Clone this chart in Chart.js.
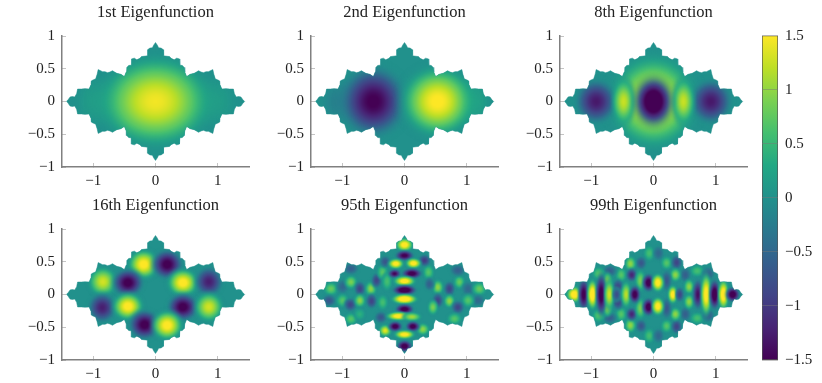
<!DOCTYPE html>
<html>
<head>
<meta charset="utf-8">
<title>Eigenfunctions</title>
<script src="https://cdn.jsdelivr.net/npm/chart.js@4"></script>
<style>
  html, body { margin: 0; background: #fff; }
  canvas { position: absolute; }
</style>
</head>
<body>
<script>
// tick labels and titles
const panelTitles = ['1st Eigenfunction', '2nd Eigenfunction', '8th Eigenfunction',
                     '16th Eigenfunction', '95th Eigenfunction', '99th Eigenfunction'];
const xTicks = [-1, 0, 1];
const yTicks = [-1, -0.5, 0, 0.5, 1];
const barTicks = [-1.5, -1, -0.5, 0, 0.5, 1, 1.5];

// domain boundary, clockwise from the left tip
const domainX = [-1.43,-1.40,-1.37,-1.335,-1.295,-1.265,-1.25,-1.19,-1.13,-1.065,-1.035,-1.03,-1.0,-0.96,-0.935,-0.92,-0.85,-0.81,-0.77,-0.73,-0.69,-0.65,-0.62,-0.555,-0.50,-0.47,-0.46,-0.43,-0.39,-0.385,-0.34,-0.30,-0.25,-0.225,-0.15,-0.13,-0.128,-0.09,-0.05,-0.03,
  0,0.03,0.05,0.09,0.128,0.13,0.15,0.225,0.25,0.30,0.34,0.385,0.39,0.43,0.46,0.47,0.50,0.555,0.62,0.65,0.69,0.73,0.77,0.81,0.85,0.92,0.935,0.96,1.0,1.03,1.035,1.065,1.13,1.19,1.25,1.265,1.295,1.335,1.37,1.40,1.43,
  1.40,1.37,1.335,1.295,1.265,1.25,1.19,1.13,1.065,1.035,1.03,1.0,0.96,0.935,0.92,0.85,0.81,0.77,0.73,0.69,0.65,0.62,0.555,0.50,0.47,0.46,0.43,0.39,0.385,0.34,0.30,0.25,0.225,0.15,0.13,0.128,0.09,0.05,0.03,
  0,-0.03,-0.05,-0.09,-0.128,-0.13,-0.15,-0.225,-0.25,-0.30,-0.34,-0.385,-0.39,-0.43,-0.46,-0.47,-0.50,-0.555,-0.62,-0.65,-0.69,-0.73,-0.77,-0.81,-0.85,-0.92,-0.935,-0.96,-1.0,-1.03,-1.035,-1.065,-1.13,-1.19,-1.25,-1.265,-1.295,-1.335,-1.37,-1.40];
const domainY = [0,0.03,0.07,0.075,0.07,0.12,0.19,0.19,0.195,0.19,0.255,0.313,0.33,0.345,0.42,0.487,0.456,0.455,0.44,0.45,0.47,0.445,0.43,0.415,0.38,0.45,0.52,0.55,0.555,0.65,0.662,0.636,0.66,0.686,0.695,0.70,0.79,0.815,0.82,0.86,
  0.9,0.86,0.82,0.815,0.79,0.70,0.695,0.686,0.66,0.636,0.662,0.65,0.555,0.55,0.52,0.45,0.38,0.415,0.43,0.445,0.47,0.45,0.44,0.455,0.456,0.487,0.42,0.345,0.33,0.313,0.255,0.19,0.195,0.19,0.19,0.12,0.07,0.075,0.07,0.03,0,
  -0.03,-0.07,-0.075,-0.07,-0.12,-0.19,-0.19,-0.195,-0.19,-0.255,-0.313,-0.33,-0.345,-0.42,-0.487,-0.456,-0.455,-0.44,-0.45,-0.47,-0.445,-0.43,-0.415,-0.38,-0.45,-0.52,-0.55,-0.555,-0.65,-0.662,-0.636,-0.66,-0.686,-0.695,-0.70,-0.79,-0.815,-0.82,-0.86,
  -0.9,-0.86,-0.82,-0.815,-0.79,-0.70,-0.695,-0.686,-0.66,-0.636,-0.662,-0.65,-0.555,-0.55,-0.52,-0.45,-0.38,-0.415,-0.43,-0.445,-0.47,-0.45,-0.44,-0.455,-0.456,-0.487,-0.42,-0.345,-0.33,-0.313,-0.255,-0.19,-0.195,-0.19,-0.19,-0.12,-0.07,-0.075,-0.07,-0.03];

// lobes: [x, y, peak value, half width, half height]
const lobes1st = [[-0.9,0,0.2,0.5,0.5],[0.9,0,0.2,0.5,0.5],[0,0,1.45,1.15,0.88]];
const lobes2nd = [[-1.0,0,-0.25,0.45,0.45],[1.0,0,0.35,0.5,0.5],[-0.5,0,-1.55,0.68,0.68],[0.53,0,1.55,0.75,0.68]];
const lobes8th = [[0,0,1.5,0.9,0.9],[-0.92,0,-1.3,0.42,0.42],[0.92,0,-1.3,0.42,0.42],[-0.48,0,1.25,0.24,0.45],[0.48,0,1.25,0.24,0.45],[0,0,-2.0,0.4,0.48]];
const lobes16th = [[-0.19,0.46,1.6,0.3,0.27],[0.187,0.46,-1.6,0.3,0.27],[-0.845,0.195,1.3,0.28,0.27],[-0.444,0.18,-1.6,0.3,0.26],[0.44,0.18,1.6,0.3,0.26],[0.855,0.195,-1.25,0.27,0.27],
  [-0.855,-0.2,-1.25,0.27,0.27],[-0.444,-0.18,1.6,0.3,0.26],[0.44,-0.19,-1.6,0.3,0.26],[0.855,-0.19,1.3,0.28,0.27],[-0.176,-0.46,-1.6,0.3,0.27],[0.187,-0.47,1.6,0.3,0.27]];
const lobes95th = [[-1.18,0.087,0.8,0.1,0.09],[-1.21,-0.092,-0.7,0.1,0.08],[-0.995,0.12,-0.5,0.09,0.1],[-0.86,0.19,0.9,0.09,0.09],[-0.86,0.395,-0.6,0.11,0.08],[-0.716,0.087,-0.9,0.08,0.1],[-0.54,0.087,1.0,0.08,0.1],
  [-0.45,0.215,-0.9,0.07,0.1],[-0.353,0.343,0.7,0.08,0.1],[-0.28,0.2,0.6,0.07,0.12],[-0.995,-0.092,0.7,0.09,0.09],[-0.87,-0.154,-0.9,0.09,0.09],[-0.716,-0.092,1.0,0.08,0.09],[-0.53,-0.1,-0.9,0.08,0.1],[-0.35,-0.12,0.6,0.07,0.1],[-0.38,-0.35,-0.7,0.09,0.08],[-0.86,-0.374,0.7,0.09,0.08],[-0.72,-0.3,0.4,0.08,0.08],[-0.31,0.5,-0.7,0.08,0.08],
  [0.535,0.11,1.0,0.08,0.1],[0.72,0.087,-0.9,0.08,0.1],[0.88,0.19,0.8,0.08,0.09],[0.856,0.37,-0.6,0.11,0.08],[1.02,0.087,-0.5,0.09,0.1],[1.2,0.087,0.8,0.1,0.09],[1.18,-0.09,-0.5,0.1,0.08],[1.02,-0.09,0.7,0.09,0.09],[0.72,-0.1,1.0,0.08,0.09],[0.535,-0.09,-0.9,0.08,0.1],[0.455,-0.195,0.9,0.07,0.1],[0.856,-0.195,-0.9,0.09,0.09],[0.8,-0.37,0.7,0.1,0.08],[0.385,0.34,0.7,0.08,0.1],[0.32,0.52,-1.0,0.09,0.08],[0.4,0.16,-0.6,0.07,0.09],
  [-0.31,-0.55,1.4,0.09,0.08],[0.294,-0.53,1.0,0.09,0.08],[0,0.76,1.7,0.12,0.09],[0,0.595,-1.6,0.13,0.07],[-0.14,0.47,1.7,0.11,0.07],[0.144,0.477,1.7,0.11,0.07],[-0.16,0.318,-1.5,0.09,0.06],[0.118,0.32,-1.7,0.14,0.07],
  [0,0.205,1.7,0.15,0.07],[0,0.067,-1.9,0.17,0.07],[0,-0.07,1.9,0.18,0.07],[0,-0.225,-1.7,0.13,0.07],[-0.1,-0.33,1.7,0.17,0.06],[0.118,-0.34,1.1,0.13,0.06],[-0.15,-0.487,-1.7,0.1,0.07],[0.134,-0.487,-1.7,0.1,0.07],[0,-0.61,1.7,0.14,0.06],[0,-0.79,-1.7,0.11,0.08]];
const lobes99th = [[-0.52,0.3,0.7,0.08,0.1],[-0.52,-0.3,0.7,0.08,0.1],[-0.57,0.12,-0.9,0.08,0.1],[-0.57,-0.12,-0.9,0.08,0.1],[-0.7,0.36,-0.6,0.1,0.08],[-0.7,-0.36,-0.6,0.1,0.08],[-0.88,0.32,0.7,0.09,0.09],[-0.88,-0.32,0.7,0.09,0.09],[0.7,0.36,0.6,0.1,0.08],[0.7,-0.36,0.6,0.1,0.08],[0.88,0.32,-0.6,0.09,0.09],[0.88,-0.32,-0.6,0.09,0.09],
  [0.51,0.3,-0.6,0.08,0.1],[0.51,-0.3,-0.6,0.08,0.1],[-0.07,0.63,0.6,0.08,0.1],[-0.07,-0.63,0.6,0.08,0.1],[0.08,0.63,-0.5,0.08,0.1],[0.08,-0.63,-0.5,0.08,0.1],[-0.2,0.48,-0.7,0.08,0.09],[-0.2,-0.48,-0.7,0.08,0.09],[0.21,0.48,0.7,0.08,0.09],[0.21,-0.48,0.7,0.08,0.09],
  [-0.37,0.47,1.0,0.08,0.1],[-0.37,-0.47,1.0,0.08,0.1],[0.37,0.49,-0.9,0.08,0.1],[0.37,-0.49,-0.9,0.08,0.1],[-0.35,0.3,-1.2,0.08,0.09],[-0.35,-0.3,-1.2,0.08,0.09],[0.35,0.3,1.0,0.08,0.09],[0.35,-0.3,1.0,0.08,0.09],
  [-0.21,0.21,0.9,0.07,0.14],[-0.21,-0.21,0.9,0.07,0.14],[0.21,0.21,-0.7,0.07,0.14],[0.21,-0.21,-0.7,0.07,0.14],[-0.74,0.2,1.0,0.07,0.12],[-0.74,-0.2,1.0,0.07,0.12],
  [-1.27,0,1.8,0.11,0.11],[-1.12,0,-1.6,0.08,0.22],[-0.98,0,1.8,0.08,0.2],[-0.84,0,-1.7,0.08,0.28],[-0.71,0,1.3,0.07,0.2],[-0.59,0,-0.8,0.06,0.1],[-0.44,0,1.2,0.07,0.17],[-0.3,0,-1.7,0.08,0.12],[0.31,0,1.7,0.07,0.12],[0.42,0,-0.9,0.06,0.1],
  [0.57,0.12,1.0,0.07,0.1],[0.57,-0.11,1.0,0.07,0.1],[0.71,0,-1.4,0.07,0.2],[0.845,0,1.7,0.08,0.28],[0.98,0,-1.8,0.08,0.2],[1.12,0,1.8,0.08,0.2],[1.27,0,-1.8,0.1,0.1],
  [-0.08,0.18,-1.7,0.09,0.12],[0.07,0.18,1.7,0.09,0.12],[-0.08,-0.19,-1.7,0.09,0.12],[0.07,-0.18,1.7,0.09,0.12]];

// viridis, low to high
const viridis = ['#440154','#482475','#414487','#355f8d','#2a788e','#21918c','#22a884','#44bf70','#7ad151','#bddf26','#fde725'];

const fontName = '"Liberation Serif", serif';
const inkColor = '#222';
const panelLefts = [62, 311, 560];
const panelTops = [36, 229];
const lobeReach = [1, 1, 1, 1.05, 1.5, 1.5];
const plotW = 187, plotH = 130.5;
const sideGap = 50, titleGap = 36, bottomGap = 24;

function hexToRgb(h) {
    return [1, 3, 5].map(i => parseInt(h.substr(i, 2), 16));
}

function colorFor(value, alpha) {
    const t = Math.min(1, Math.max(0, (value + 1.5) / 3)) * (viridis.length - 1);
    const i = Math.min(viridis.length - 2, Math.floor(t));
    const a = hexToRgb(viridis[i]), b = hexToRgb(viridis[i + 1]);
    const mix = a.map((c, k) => Math.round(c + (b[k] - c) * (t - i)));
    return `rgba(${mix[0]},${mix[1]},${mix[2]},${alpha})`;
}

// soft elliptical blob for one lobe, sized from the chart's scales
function lobeSprite(chart, lobe, reach) {
    const pxW = Math.abs(chart.scales.x.getPixelForValue(lobe.w * reach) - chart.scales.x.getPixelForValue(0));
    const pxH = Math.abs(chart.scales.y.getPixelForValue(lobe.h * reach) - chart.scales.y.getPixelForValue(0));
    const sprite = document.createElement('canvas');
    sprite.width = Math.ceil(pxW * 2);
    sprite.height = Math.ceil(pxH * 2);
    const c = sprite.getContext('2d');
    c.translate(sprite.width / 2, sprite.height / 2);
    c.scale(sprite.width / 2, sprite.height / 2);
    const g = c.createRadialGradient(0, 0, 0, 0, 0, 1);
    for (let k = 0; k <= 32; k++) {
        const f = k / 32;
        const fade = Math.min(1, (1 - f) / 0.5);
        const shape = Math.cos(f * Math.PI / 2);
        g.addColorStop(f, colorFor(lobe.v * shape * shape, fade * fade * (3 - 2 * fade)));
    }
    c.fillStyle = g;
    c.fillRect(-1, -1, 2, 2);
    return sprite;
}

// keep the lobes inside the domain
const clipToDomain = {
    id: 'clipToDomain',
    beforeDatasetDraw(chart, args) {
        if (args.index !== 0) return;
        const { ctx, scales } = chart;
        ctx.save();
        ctx.beginPath();
        domainX.forEach((x, i) => {
            ctx.lineTo(scales.x.getPixelForValue(x), scales.y.getPixelForValue(domainY[i]));
        });
        ctx.closePath();
        ctx.clip();
    },
    afterDatasetDraw(chart, args) {
        if (args.index === 0) chart.ctx.restore();
    }
};

function makeCanvas(left, top, w, h) {
    const cv = document.createElement('canvas');
    cv.width = w;
    cv.height = h;
    cv.style.left = left + 'px';
    cv.style.top = top + 'px';
    document.body.appendChild(cv);
    return cv;
}

function formatTick(v) {
    return String(v).replace('-', '\u2212');
}

function axisOptions(position, min, max, ticks, padding, fitKey, fitValue) {
    return {
        type: 'linear', position, min, max,
        border: { color: '#808080', width: 1.5 },
        grid: { drawOnChartArea: false, tickLength: -4, color: '#c4c4c4', lineWidth: 1 },
        ticks: {
            padding, color: inkColor, autoSkip: false, maxRotation: 0,
            font: { family: fontName, size: 15 },
            callback: formatTick
        },
        afterBuildTicks: scale => { scale.ticks = ticks.map(value => ({ value })); },
        afterFit: scale => { scale[fitKey] = fitValue; }
    };
}

function drawPanel(index, lobes) {
    const left = panelLefts[index % 3] - sideGap;
    const top = panelTops[Math.floor(index / 3)] - titleGap;
    const cv = makeCanvas(left, top, plotW + sideGap * 2, Math.ceil(plotH) + titleGap + bottomGap);
    new Chart(cv.getContext('2d'), {
        type: 'scatter',
        data: {
            datasets: [
                {
                    data: lobes.map(l => ({ x: l[0], y: l[1], v: l[2], w: l[3], h: l[4] })),
                    showLine: false,
                    pointRadius: 1,
                    pointStyle: ctx => ctx.raw ? lobeSprite(ctx.chart, ctx.raw, lobeReach[index]) : 'circle'
                },
                {
                    data: domainX.map((x, i) => ({ x, y: domainY[i] })),
                    showLine: true,
                    fill: 'shape',
                    tension: 0,
                    backgroundColor: colorFor(0, 1),
                    borderColor: colorFor(0, 1),
                    borderWidth: 0.5,
                    pointRadius: 0
                }
            ]
        },
        options: {
            responsive: false,
            animation: false,
            events: [],
            layout: { padding: { right: sideGap } },
            plugins: {
                legend: { display: false },
                tooltip: { enabled: false },
                title: {
                    display: true,
                    fullSize: false,
                    text: panelTitles[index],
                    color: inkColor,
                    font: { family: fontName, size: 16.5, weight: 'normal', lineHeight: 1.2 },
                    padding: { top: 3, bottom: 13.2 }
                }
            },
            scales: {
                x: axisOptions('bottom', -1.5, 1.5, xTicks, 9, 'height', bottomGap),
                y: axisOptions('left', -1, 1, yTicks, 11, 'width', sideGap)
            }
        },
        plugins: [clipToDomain]
    });
}

[lobes1st, lobes2nd, lobes8th, lobes16th, lobes95th, lobes99th].forEach((lobes, i) => drawPanel(i, lobes));

// colour bar
const barCanvas = makeCanvas(752, 26, 70, 344);
new Chart(barCanvas.getContext('2d'), {
    type: 'bar',
    data: {
        labels: [''],
        datasets: [{
            data: [[-1.5, 1.5]],
            categoryPercentage: 1,
            barPercentage: 1,
            borderWidth: 1,
            borderColor: '#555',
            borderSkipped: false,
            backgroundColor: ctx => {
                const { chartArea, ctx: c } = ctx.chart;
                if (!chartArea) return colorFor(0, 1);
                const g = c.createLinearGradient(0, chartArea.bottom, 0, chartArea.top);
                viridis.forEach((col, i) => g.addColorStop(i / (viridis.length - 1), col));
                return g;
            }
        }]
    },
    options: {
        responsive: false,
        animation: false,
        events: [],
        layout: { padding: { left: 10, top: 9.7, bottom: 10 } },
        plugins: { legend: { display: false }, tooltip: { enabled: false } },
        scales: {
            x: { display: false },
            y: {
                position: 'right', min: -1.5, max: 1.5,
                border: { display: false },
                grid: { z: 1, color: 'rgba(120,120,120,0.45)', drawTicks: false },
                ticks: {
                    padding: 7, color: inkColor, autoSkip: false,
                    font: { family: fontName, size: 15 },
                    callback: formatTick
                },
                afterBuildTicks: scale => { scale.ticks = barTicks.map(value => ({ value })); },
                afterFit: scale => { scale.width = 44; scale.paddingTop = 0; scale.paddingBottom = 0; }
            }
        }
    }
});
</script>
</body>
</html>
